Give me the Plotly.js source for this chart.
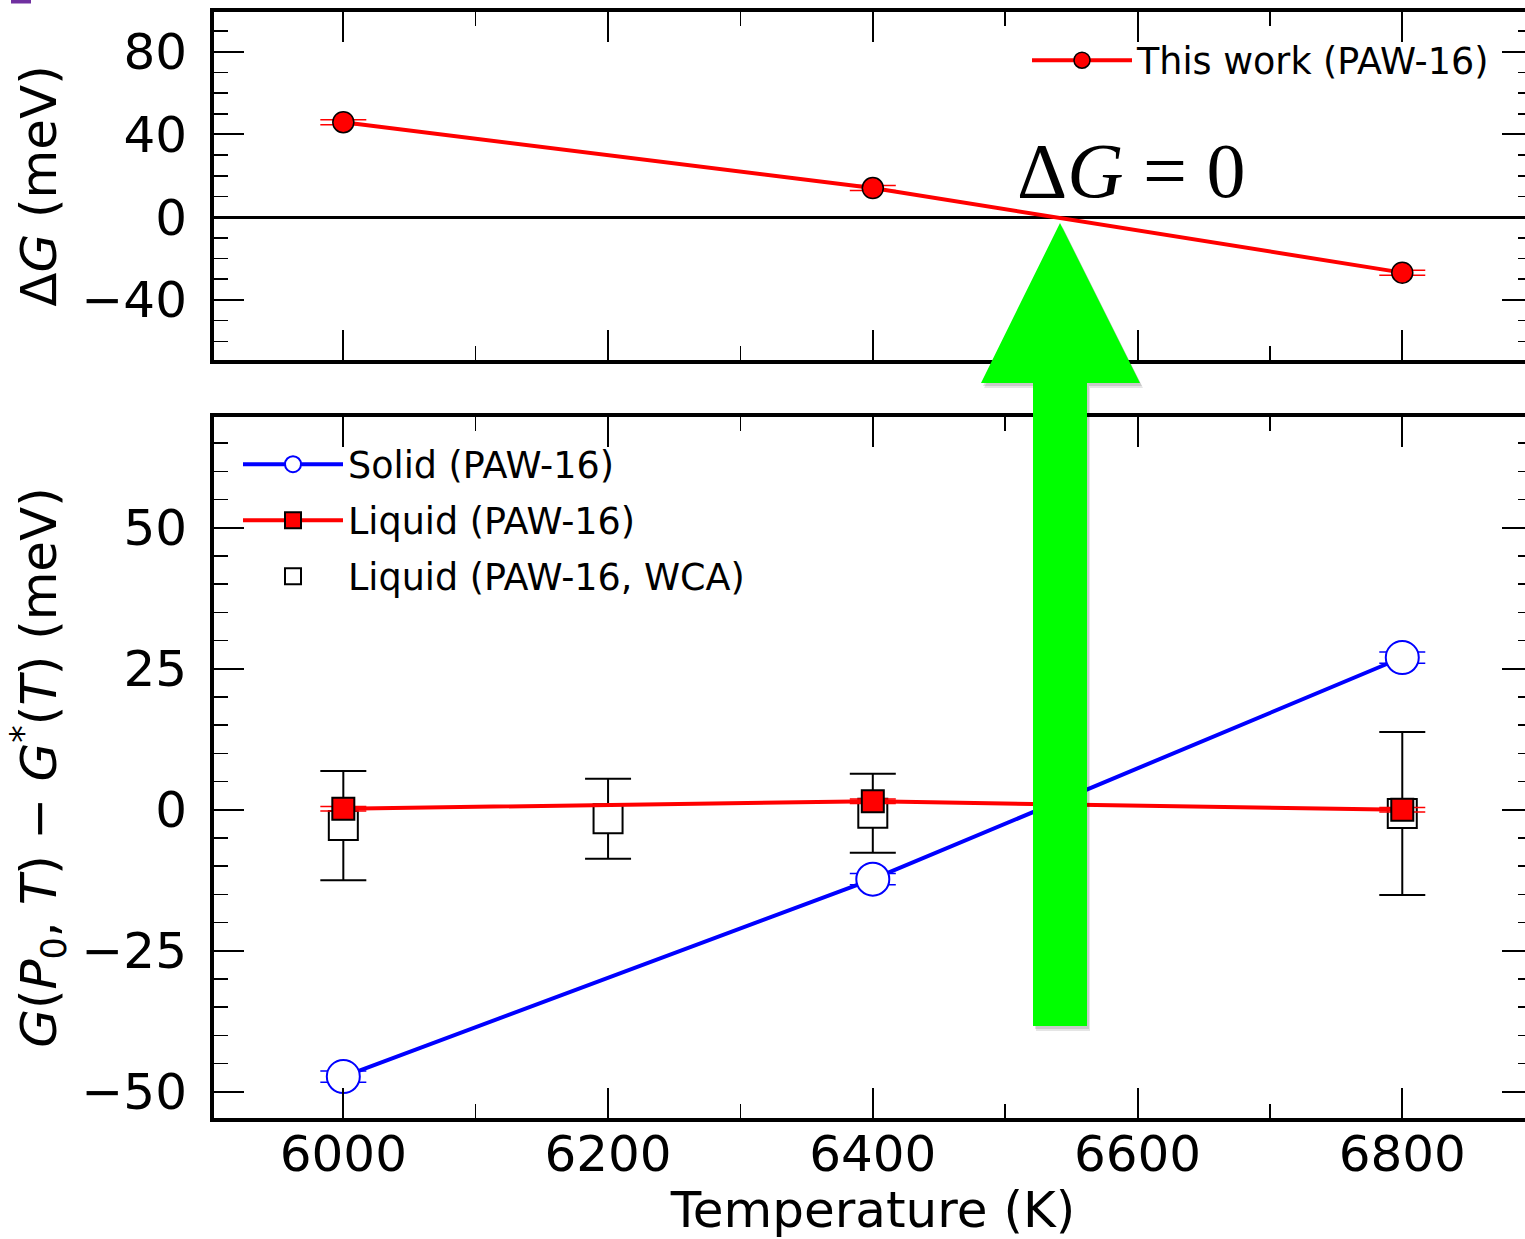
<!DOCTYPE html>
<html>
<head>
<meta charset="utf-8">
<script src="https://cdn.plot.ly/plotly-3.0.1.min.js"></script>
<style>
  html, body { margin: 0; padding: 0; overflow: hidden; background: #fff; }
  #chart { width: 1545px; height: 1239px; }
</style>
</head>
<body>
<div id="chart"></div>
<script>
// ---------------- data ----------------
const temps = [6000, 6400, 6800];
const deltaG = [45.9, 14.1, -26.8];
const deltaGErr = [1.2, 1.2, 1.2];

const solidT = [6000, 6400, 6800];
const solidG = [-47.3, -12.3, 27.0];
const solidErr = [1.0, 1.0, 1.0];

const liquidT = [6000, 6400, 6800];
const liquidG = [0.2, 1.5, 0.0];
const liquidErr = [0.4, 0.4, 0.4];

const wcaT = [6000, 6200, 6400, 6800];
const wcaG = [-2.8, -1.6, -0.6, -0.65];
const wcaErr = [9.7, 7.1, 7.0, 14.45];

const legendTop = ['This work (PAW-16)'];
const legendBottom = ['Solid (PAW-16)', 'Liquid (PAW-16)', 'Liquid (PAW-16, WCA)'];

// ---------------- geometry helpers ----------------
const W = 1545, H = 1239;
const L = 214, R = 1532, T = 12, B = 1118;
const px = x => (x - L) / (R - L);
const py = y => (B - y) / (B - T);

const FONT = 'DejaVu Sans';

const traces = [
  {
    x: temps, y: deltaG, xaxis: 'x2', yaxis: 'y2', name: legendTop[0], legend: 'legend2',
    mode: 'lines+markers',
    line: {color: '#ff0000', width: 4},
    marker: {symbol: 'circle', size: 21, color: '#ff0000', line: {color: '#000', width: 1.5}},
    error_y: {type: 'data', array: deltaGErr, visible: true, color: '#ff0000', thickness: 1.5, width: 23}
  },
  {
    x: wcaT, y: wcaG, xaxis: 'x', yaxis: 'y', name: legendBottom[2], legend: 'legend', legendrank: 3, legendgroup: 'g3',
    mode: 'markers',
    marker: {symbol: 'square', size: 29, color: '#ffffff', line: {color: '#000', width: 2}},
    error_y: {type: 'data', array: wcaErr, visible: true, color: '#000', thickness: 2, width: 23}
  },
  {
    x: liquidT, y: liquidG, xaxis: 'x', yaxis: 'y', name: legendBottom[1], legend: 'legend', legendrank: 2, legendgroup: 'g2',
    mode: 'lines+markers',
    line: {color: '#ff0000', width: 4},
    marker: {symbol: 'square', size: 22, color: '#ff0000', line: {color: '#000', width: 2}},
    error_y: {type: 'data', array: liquidErr, visible: true, color: '#ff0000', thickness: 1.5, width: 23}
  },
  {
    x: solidT, y: solidG, xaxis: 'x', yaxis: 'y', name: legendBottom[0], legend: 'legend', legendrank: 1, legendgroup: 'g1',
    mode: 'lines+markers',
    line: {color: '#0000ff', width: 4},
    marker: {symbol: 'circle', size: 33, color: '#ffffff', line: {color: '#0000ff', width: 2}},
    error_y: {type: 'data', array: solidErr, visible: true, color: '#0000ff', thickness: 1.5, width: 23}
  }
];

const tickCommon = {
  ticks: 'inside', ticklen: 30, tickwidth: 2, tickcolor: '#000',
  showline: true, linewidth: 4, linecolor: '#000', mirror: 'ticks',
  showgrid: false, zeroline: false,
  tickfont: {family: FONT, size: 50, color: '#000'},
  automargin: false
};

const xRange = [5902.3, 6898.0];

const layout = {
  width: W, height: H,
  margin: {l: L, r: W - R, t: T, b: H - B, pad: 0},
  paper_bgcolor: '#fff', plot_bgcolor: '#fff',
  font: {family: FONT, color: '#000'},
  showlegend: true,
  xaxis: Object.assign({}, tickCommon, {
    domain: [0, 1], anchor: 'y', range: xRange, tickmode: 'linear', tick0: 0, dtick: 200,
    minor: {ticks: 'inside', dtick: 100, tick0: 0, ticklen: 14, tickwidth: 1.6, tickcolor: '#000', showgrid: false},
    title: {text: 'Temperature (K)', font: {family: FONT, size: 50, color: '#000'}, standoff: 10},
    ticklabelstandoff: -11
  }),
  yaxis: Object.assign({}, tickCommon, {
    domain: [0, py(417)], anchor: 'x', range: [-54.65, 69.65], tickmode: 'linear', tick0: 0, dtick: 25,
    minor: {ticks: 'inside', dtick: 5, tick0: 0, ticklen: 14, tickwidth: 1.6, tickcolor: '#000', showgrid: false},
    title: {text: '<i>G</i>(<i>P</i><sub>0</sub>, <i>T</i>) − <i>G</i><sup>*</sup>(<i>T</i>) (meV)', font: {family: FONT, size: 50, color: '#000'}, standoff: 10},
    ticklabelstandoff: 13
  }),
  xaxis2: Object.assign({}, tickCommon, {
    domain: [0, 1], anchor: 'y2', range: xRange, matches: 'x', tickmode: 'linear', tick0: 0, dtick: 200,
    showticklabels: false,
    minor: {ticks: 'inside', dtick: 100, tick0: 0, ticklen: 14, tickwidth: 1.6, tickcolor: '#000', showgrid: false}
  }),
  yaxis2: Object.assign({}, tickCommon, {
    domain: [py(360), 1], anchor: 'x2', range: [-69.02, 99.18], tickmode: 'linear', tick0: 0, dtick: 40,
    minor: {ticks: 'inside', dtick: 10, tick0: 0, ticklen: 14, tickwidth: 1.6, tickcolor: '#000', showgrid: false},
    zeroline: true, zerolinecolor: '#000', zerolinewidth: 3,
    title: {text: 'Δ<i>G</i> (meV)', font: {family: FONT, size: 50, color: '#000'}, standoff: 10},
    ticklabelstandoff: 13
  }),
  legend: {
    x: px(238), y: py(434), xanchor: 'left', yanchor: 'top',
    bgcolor: 'rgba(0,0,0,0)', borderwidth: 0,
    font: {family: FONT, size: 36.5, color: '#000'},
    itemwidth: 100, traceorder: 'grouped', tracegroupgap: 5.5
  },
  legend2: {
    x: px(1027), y: py(30), xanchor: 'left', yanchor: 'top',
    bgcolor: 'rgba(0,0,0,0)', borderwidth: 0,
    font: {family: FONT, size: 36.5, color: '#000'},
    itemwidth: 100
  },
  annotations: [
    {
      xref: 'paper', yref: 'paper', x: px(1015), y: py(171), xanchor: 'left', yanchor: 'middle',
      text: 'Δ<i>G</i> = 0', showarrow: false,
      font: {family: 'Liberation Serif', size: 78, color: '#000'}
    }
  ],
  shapes: []
};

// green arrow (with a soft drop shadow)
function arrowPath(dx, dy) {
  const pts = [[1033, 1026], [1087, 1026], [1087, 383], [1140, 383], [1060, 223], [981, 383], [1033, 383]];
  return 'M ' + pts.map(p => px(p[0] + dx) + ',' + py(p[1] + dy)).join(' L ') + ' Z';
}
layout.shapes.push({type: 'path', xref: 'paper', yref: 'paper', path: arrowPath(3, 5), fillcolor: 'rgba(0,0,0,0.10)', line: {width: 0}, layer: 'above'});
layout.shapes.push({type: 'path', xref: 'paper', yref: 'paper', path: arrowPath(2, 3), fillcolor: 'rgba(0,0,0,0.12)', line: {width: 0}, layer: 'above'});
layout.shapes.push({type: 'path', xref: 'paper', yref: 'paper', path: arrowPath(0, 0), fillcolor: '#00ff00', line: {width: 0}, layer: 'above'});
// cropped neighbouring panel mark (top-left)
layout.shapes.push({type: 'rect', xref: 'paper', yref: 'paper', x0: px(11), x1: px(31), y0: py(3.5), y1: py(-2), fillcolor: '#7030a0', line: {width: 0}, layer: 'above'});

Plotly.newPlot('chart', traces, layout, {staticPlot: true, displayModeBar: false});
</script>
</body>
</html>
